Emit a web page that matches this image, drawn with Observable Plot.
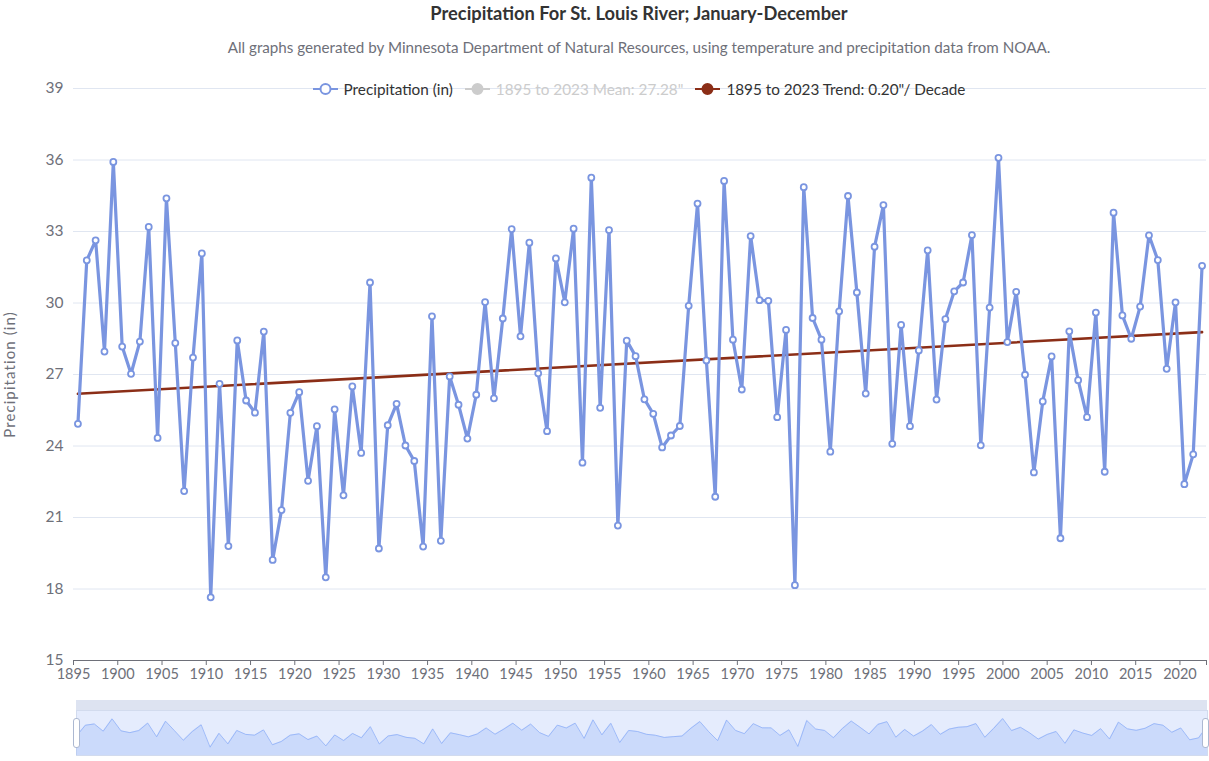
<!DOCTYPE html>
<html><head><meta charset="utf-8">
<script src="https://cdn.jsdelivr.net/npm/d3@7"></script>
<script src="https://cdn.jsdelivr.net/npm/@observablehq/plot@0.6"></script>
<style>
body{margin:0;background:#fff;font-family:Lato,"Noto Sans",sans-serif;}
#wrap{position:relative;width:1209px;height:761px;overflow:hidden;background:#fff;}
.ctr{position:absolute;left:0;width:1278px;text-align:center;white-space:nowrap;}
#title{top:2px;font-weight:bold;font-size:18.3px;color:#333;}
#subtitle{top:38px;font-size:15.2px;color:#6E7079;}
#legend{top:80px;font-size:15.3px;color:#333;display:flex;justify-content:center;align-items:center;gap:0;z-index:2;}
.item{display:flex;align-items:center;margin:0 6px;}
.item svg{margin-right:6px;}
#main{position:absolute;left:0;top:0;}
#slider{position:absolute;left:0;top:700px;}
#strip{position:absolute;left:76px;top:700px;width:1131px;height:10px;background:#dde3f1;}
.handle{position:absolute;top:718px;width:5px;height:28px;background:#fff;border:1px solid #ACB8D1;border-radius:3px;}
#main g[aria-label="y-axis label"] text{font-size:15px;letter-spacing:1.1px;fill:#6E7079;}
</style></head>
<body><div id="wrap">
<div id="title" class="ctr">Precipitation For St. Louis River; January-December</div>
<div id="subtitle" class="ctr">All graphs generated by Minnesota Department of Natural Resources, using temperature and precipitation data from NOAA.</div>
<div id="legend" class="ctr"></div>
<div id="main"></div>
<div id="strip"></div>
<div id="slider"></div>
<div class="handle" style="left:73px"></div>
<div class="handle" style="left:1202px"></div>
</div>
<script>
const years = d3.range(1895, 2023);
const precip = [
24.93,31.79,32.63,27.96,35.92,28.17,27.03,28.38,33.19,24.34,
34.39,28.32,22.11,27.71,32.08,17.65,26.61,19.80,28.43,25.91,
25.40,28.80,19.22,21.31,25.39,26.26,22.54,24.83,18.49,25.54,
21.93,26.50,23.71,30.86,19.70,24.87,25.77,24.02,23.37,19.78,
29.44,20.02,26.92,25.73,24.31,26.15,30.04,26.00,29.35,33.10,
28.60,32.53,27.05,24.62,31.87,30.03,33.12,23.30,35.26,25.60,
33.06,20.66,28.42,27.77,25.96,25.35,23.94,24.44,24.84,29.88,
34.17,27.59,21.87,35.12,28.46,26.37,32.81,30.12,30.09,25.21,
28.87,18.16,34.86,29.37,28.46,23.76,29.65,34.49,30.44,26.20,
32.36,34.11,24.09,29.08,24.83,28.01,32.21,25.95,29.32,30.49,
30.86,32.85,24.03,29.81,36.09,28.36,30.47,26.99,22.89,25.87,
27.76,20.13,28.81,26.76,25.21,29.60,22.92,33.79,29.48,28.50,
29.85,32.84,31.80,27.24,30.03,22.40,23.65,31.56];
const trendYears = [1895, 2022];
const trendValues = [26.19, 28.78];
const yTicks = [15,18,21,24,27,30,33,36,39];
const xTicks = d3.range(1895, 2021, 5);
const legendItems = [
  {label:"Precipitation (in)", color:"#7A95E0", filled:false, text:"#333"},
  {label:"1895 to 2023 Mean: 27.28\"", color:"#cccccc", filled:true, text:"#cccccc"},
  {label:"1895 to 2023 Trend: 0.20\"/ Decade", color:"#8B2E17", filled:true, text:"#333"}
];

const data = years.map((y,i)=>({year:y, value:precip[i]}));
const trend = trendYears.map((y,i)=>({year:y, value:trendValues[i]}));
const mid = d => d.year + 0.5;
const lineColor = "#7A95E0";

const leg = document.getElementById("legend");
legendItems.forEach(it=>{
  const el = document.createElement("div"); el.className="item";
  el.innerHTML = `<svg width="25" height="14"><line x1="0" x2="25" y1="7" y2="7" stroke="${it.color}" stroke-width="2"/><circle cx="12.5" cy="7" r="5" fill="${it.filled?it.color:'#fff'}" stroke="${it.color}" stroke-width="2"/></svg><span style="color:${it.text}">${it.label}</span>`;
  leg.appendChild(el);
});

const chart = Plot.plot({
  width:1209, height:700, marginTop:88, marginBottom:40, marginLeft:73, marginRight:3,
  x:{domain:[1895,2023]},
  y:{domain:[15,39]},
  style:{fontFamily:"Lato, 'Noto Sans', sans-serif", fontSize:"15px", color:"#6E7079", background:"transparent", overflow:"visible"},
  marks:[
    Plot.gridY(yTicks.slice(1), {stroke:"#E0E6F1", strokeOpacity:1, strokeWidth:1}),
    Plot.axisY(yTicks, {tickSize:0, tickPadding:10, label:"Precipitation (in)", labelAnchor:"center", labelArrow:"none", labelOffset:69, fill:"#6E7079", fontSize:15.5}),
    Plot.axisX([...xTicks, 2023], {tickSize:5, tickPadding:3, tickFormat:d=> d===2023 ? "" : String(d), label:null, stroke:"#6E7079", fill:"#6E7079", fontSize:14.5}),
    Plot.ruleY([15], {stroke:"#6E7079", strokeWidth:1}),
    Plot.line(trend, {x:mid, y:"value", stroke:"#8B2E17", strokeWidth:2.6}),
    Plot.line(data, {x:mid, y:"value", stroke:lineColor, strokeWidth:3.2}),
    Plot.dot(data, {x:mid, y:"value", r:3, fill:"#fff", stroke:lineColor, strokeWidth:1.8})
  ]
});
document.getElementById("main").appendChild(chart);

const slider = Plot.plot({
  width:1209, height:61, marginTop:10, marginBottom:6, marginLeft:76, marginRight:2,
  x:{domain:[1895,2022], axis:null},
  y:{domain:[12.3,41.3], axis:null},
  style:{background:"transparent"},
  marks:[
    Plot.frame({fill:"#e5ecfd", stroke:"#d2dbee"}),
    Plot.areaY(data, {x:"year", y:"value", fill:"#8fb0f7", fillOpacity:0.3, clip:true}),
    Plot.lineY(data, {x:"year", y:"value", stroke:"#8fb0f7", strokeWidth:0.8})
  ]
});
document.getElementById("slider").appendChild(slider);
</script>
</body></html>
